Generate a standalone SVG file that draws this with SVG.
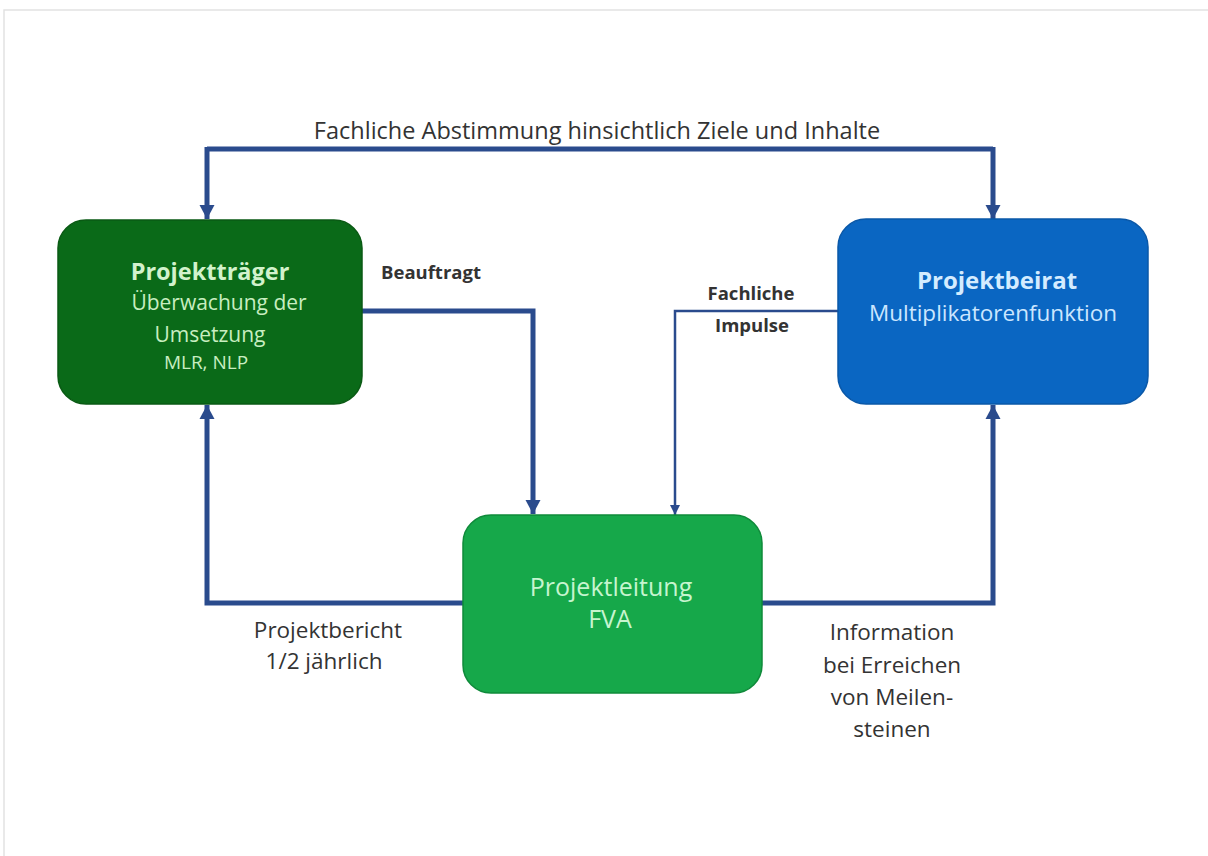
<svg xmlns="http://www.w3.org/2000/svg" width="1208" height="856" viewBox="0 0 1208 856">
<style>
.lbl{font-family:"Open Sans","Liberation Sans",sans-serif;fill:#333;text-anchor:middle}
.ttl{font-family:"Open Sans","Liberation Sans",sans-serif;text-anchor:middle}
.thick{fill:none;stroke:#2a4b8d;stroke-width:5}
.thin{fill:none;stroke:#2a4b8d;stroke-width:2.5}
</style>
<defs>
<marker id="ah" markerUnits="userSpaceOnUse" markerWidth="16" markerHeight="16" refX="14" refY="8" orient="auto">
<path d="M0,0.5 L14,8 L0,15.5 Z" fill="#2a4b8d"/>
</marker>
<marker id="ahs" markerUnits="userSpaceOnUse" markerWidth="12" markerHeight="10" refX="10" refY="5" orient="auto">
<path d="M0,0 L10,5 L0,10 Z" fill="#2a4b8d"/>
</marker>
</defs>
<rect x="0" y="0" width="1208" height="856" fill="#fff"/>
<rect x="4" y="10" width="1220" height="860" fill="none" stroke="#e2e2e2" stroke-width="1.5"/>
<g id="connectors">
<path class="thick" d="M207,149 H993" />
<path class="thick" d="M207,147 V219" marker-end="url(#ah)"/>
<path class="thick" d="M993,147 V219" marker-end="url(#ah)"/>
<path class="thick" d="M362,311 H533 V514" marker-end="url(#ah)"/>
<path class="thin" d="M838,311 H675 V515" marker-end="url(#ahs)"/>
<path class="thick" d="M463,603 H207 V405" marker-end="url(#ah)"/>
<path class="thick" d="M762,603 H993 V405" marker-end="url(#ah)"/>
<text class="lbl" x="597" y="139" font-size="23.5">Fachliche Abstimmung hinsichtlich Ziele und Inhalte</text>
<text class="lbl" x="431" y="279" font-size="18.5" font-weight="bold">Beauftragt</text>
<text class="lbl" x="751" y="300" font-size="18.5" font-weight="bold">Fachliche</text>
<text class="lbl" x="752" y="332" font-size="18.5" font-weight="bold">Impulse</text>
<text class="lbl" x="328" y="638" font-size="22.5">Projektbericht</text>
<text class="lbl" x="324" y="669" font-size="22.5">1/2 jährlich</text>
<text class="lbl" x="892" y="640" font-size="22.5">Information</text>
<text class="lbl" x="892" y="673" font-size="22.5">bei Erreichen</text>
<text class="lbl" x="892" y="705" font-size="22.5">von Meilen-</text>
<text class="lbl" x="892" y="737" font-size="22.5">steinen</text>
</g>
<g id="projekttraeger">
<rect x="58" y="220" width="304" height="184" rx="28" fill="#0a6a18" stroke="#0a5a14" stroke-width="1.5"/>
<text class="ttl" x="210" y="280" font-size="23.5" font-weight="bold" fill="#d2f2cc">Projektträger</text>
<text class="ttl" x="219" y="310" font-size="21" fill="#c8eec0">Überwachung der</text>
<text class="ttl" x="210" y="342" font-size="21" fill="#c8eec0">Umsetzung</text>
<text class="ttl" x="206" y="369" font-size="19" fill="#c8eec0">MLR, NLP</text>
</g>
<g id="projektbeirat">
<rect x="838" y="219" width="310" height="185" rx="28" fill="#0a66c2" stroke="#0a58a8" stroke-width="1.5"/>
<text class="ttl" x="997" y="289" font-size="24" font-weight="bold" fill="#d4ecff">Projektbeirat</text>
<text class="ttl" x="993" y="321" font-size="22.5" fill="#cce6ff">Multiplikatorenfunktion</text>
</g>
<g id="projektleitung">
<rect x="463" y="515" width="299" height="178" rx="28" fill="#16a84a" stroke="#0f8a3a" stroke-width="1.5"/>
<text class="ttl" x="611" y="596" font-size="25" fill="#c6f5cf">Projektleitung</text>
<text class="ttl" x="610" y="628" font-size="25" fill="#c6f5cf">FVA</text>
</g>
</svg>
